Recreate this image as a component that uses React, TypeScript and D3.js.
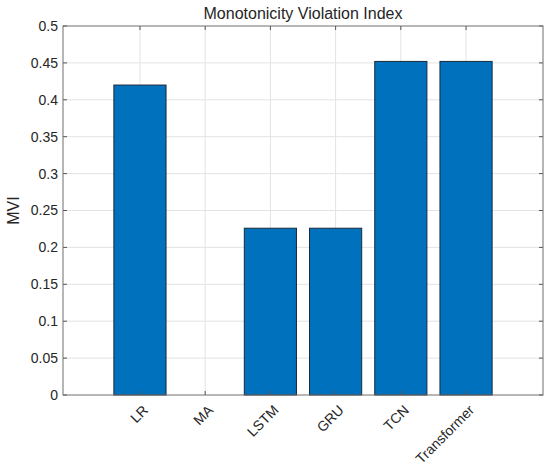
import React, { useEffect, useRef } from "react";
import * as d3 from "d3";

const width = 550;
const height = 474;

const models = ["LR", "MA", "LSTM", "GRU", "TCN", "Transformer"];
const mviValues = [0.42, 0, 0.226, 0.226, 0.452, 0.452];
const yTicks = [0, 0.05, 0.1, 0.15, 0.2, 0.25, 0.3, 0.35, 0.4, 0.45, 0.5];

const margin = { top: 26, right: 7, bottom: 79, left: 63 };

const App = () => {
    const ref = useRef<SVGSVGElement>(null);

    useEffect(() => {
        const svg = d3.select(ref.current);
        svg.selectAll("*").remove();

        const x0 = margin.left;
        const x1 = width - margin.right;
        const y0 = height - margin.bottom;
        const y1 = margin.top;

        const x = d3.scaleBand<string>()
            .domain(models)
            .range([x0, x1])
            .paddingInner(0.2)
            .paddingOuter(0.78);

        const y = d3.scaleLinear().domain([0, 0.5]).range([y0, y1]);

        const g = svg.append("g")
            .attr("font-family", "'Liberation Sans', Arial, sans-serif")
            .attr("fill", "#262626");

        // grid
        g.append("g")
            .attr("stroke", "#e3e3e3")
            .attr("stroke-width", 1)
            .selectAll("line.h")
            .data(yTicks.slice(1, -1))
            .join("line")
            .attr("x1", x0).attr("x2", x1)
            .attr("y1", d => y(d)).attr("y2", d => y(d));

        g.append("g")
            .attr("stroke", "#e3e3e3")
            .attr("stroke-width", 1)
            .selectAll("line")
            .data(models)
            .join("line")
            .attr("x1", d => x(d)! + x.bandwidth() / 2)
            .attr("x2", d => x(d)! + x.bandwidth() / 2)
            .attr("y1", y0).attr("y2", y1);

        // bars
        g.append("g")
            .selectAll("rect")
            .data(models.map((m, i) => ({ m, v: mviValues[i] })))
            .join("rect")
            .attr("x", d => x(d.m)!)
            .attr("width", x.bandwidth())
            .attr("y", d => y(d.v))
            .attr("height", d => y0 - y(d.v))
            .attr("fill", "#0072bd")
            .attr("stroke", d => d.v > 0 ? "#1a2a3a" : "none")
            .attr("stroke-width", 1);

        // ticks
        const ticks = g.append("g").attr("stroke", "#555").attr("stroke-width", 1);
        models.forEach(m => {
            const cx = x(m)! + x.bandwidth() / 2;
            ticks.append("line").attr("x1", cx).attr("x2", cx).attr("y1", y0).attr("y2", y0 - 4);
            ticks.append("line").attr("x1", cx).attr("x2", cx).attr("y1", y1).attr("y2", y1 + 4);
        });
        yTicks.forEach(t => {
            ticks.append("line").attr("x1", x0).attr("x2", x0 + 4).attr("y1", y(t)).attr("y2", y(t));
            ticks.append("line").attr("x1", x1).attr("x2", x1 - 4).attr("y1", y(t)).attr("y2", y(t));
        });

        // box
        g.append("rect")
            .attr("x", x0).attr("y", y1)
            .attr("width", x1 - x0).attr("height", y0 - y1)
            .attr("fill", "none")
            .attr("stroke", "#6e6e6e")
            .attr("stroke-width", 1);

        // y tick labels
        g.append("g")
            .attr("font-size", 14)
            .attr("text-anchor", "end")
            .selectAll("text")
            .data(yTicks)
            .join("text")
            .attr("x", x0 - 5)
            .attr("y", d => y(d))
            .attr("dy", "0.35em")
            .text(d => String(d));

        // x tick labels
        g.append("g")
            .attr("font-size", 14)
            .attr("text-anchor", "end")
            .selectAll("text")
            .data(models)
            .join("text")
            .attr("transform", d => `translate(${x(d)! + x.bandwidth() / 2 + 2},${y0 + 9}) rotate(-45)`)
            .attr("dy", "0.71em")
            .text(d => d);

        g.append("text")
            .attr("x", (x0 + x1) / 2)
            .attr("y", 19)
            .attr("text-anchor", "middle")
            .attr("font-size", 16)
            .text("Monotonicity Violation Index");

        g.append("text")
            .attr("transform", `translate(19,${(y0 + y1) / 2}) rotate(-90)`)
            .attr("text-anchor", "middle")
            .attr("font-size", 16)
            .text("MVI");
    }, []);

    return (
        <svg ref={ref} width={width} height={height}
            style={{ position: "absolute", left: 0, top: 0, background: "#fff" }} />
    );
};

export default App;
